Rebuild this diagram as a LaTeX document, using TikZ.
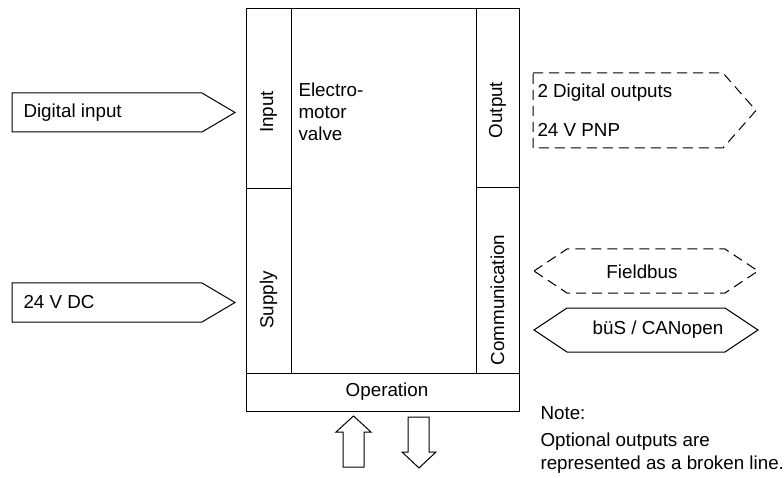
\documentclass[tikz,border=0pt]{standalone}
\usepackage{fontspec}
\setmainfont{Liberation Sans}
\begin{document}
\begin{tikzpicture}[x=1pt,y=-1pt,line width=1pt,
  lbl/.style={inner sep=0pt,font=\fontsize{18.8}{22}\selectfont},
  opt/.style={dash pattern=on 10pt off 6pt},
  shp/.style={draw=black,line join=miter}]
\useasboundingbox (0,0) rectangle (784,478);
% main box
\draw[shp] (246,9) rectangle (519,411);
\draw[shp] (291,9) -- (291,373);
\draw[shp] (476,9) -- (476,373);
\draw[shp] (246,373) -- (519,373);
\draw[shp] (246,189) -- (291,189);
\draw[shp] (476,188) -- (519,188);
\node[lbl,rotate=90] (inp) at (268.5,112) {Input};
\node[lbl,rotate=90] (sup) at (268.5,300) {Supply};
\node[lbl,rotate=90] (out) at (497.5,110) {Output};
\node[lbl,rotate=90] (com) at (497.5,300) {Communication};
\node[lbl] (op) at (387,392) {Operation};
\node[lbl,anchor=north west,align=left] (emv) at (298,82) {Electro-\\motor\\valve};
% input arrows
\draw[shp] (12,93) -- (202,93) -- (235,112.5) -- (202,132) -- (12,132) -- cycle;
\node[lbl,anchor=west] (di) at (23,112.5) {Digital input};
\draw[shp] (12,283) -- (202,283) -- (235,302.5) -- (202,322) -- (12,322) -- cycle;
\node[lbl,anchor=west] (dc) at (23,302.5) {24 V DC};
% optional output
\draw[shp,opt] (533,73) -- (723,73) -- (756,110.5) -- (723,148) -- (533,148) -- cycle;
\node[lbl,anchor=west] (o1) at (537,93) {2 Digital outputs};
\node[lbl,anchor=west] (o2) at (537,130) {24 V PNP};
% fieldbus
\draw[shp,opt] (534,271) -- (567,249) -- (725,249) -- (758,271) -- (725,293) -- (567,293) -- cycle;
\node[lbl] (fb) at (642,271.5) {Fieldbus};
\draw[shp] (534,330) -- (567,308) -- (725,308) -- (758,330) -- (725,352) -- (567,352) -- cycle;
\node[lbl] (bus) at (658,330) {büS / CANopen};
% operation arrows
\draw[shp] (343,467) -- (343,432) -- (336,432) -- (353.5,416) -- (371,432) -- (364,432) -- (364,467) -- cycle;
\draw[shp] (408,417) -- (429,417) -- (429,452) -- (436,452) -- (419,468) -- (402,452) -- (408,452) -- cycle;
% note
\node[lbl,anchor=west] (n1) at (540,413) {Note:};
\node[lbl,anchor=west] (n2) at (540,442) {Optional outputs are};
\node[lbl,anchor=west] (n3) at (540,465) {represented as a broken line.};
\end{tikzpicture}
\end{document}
